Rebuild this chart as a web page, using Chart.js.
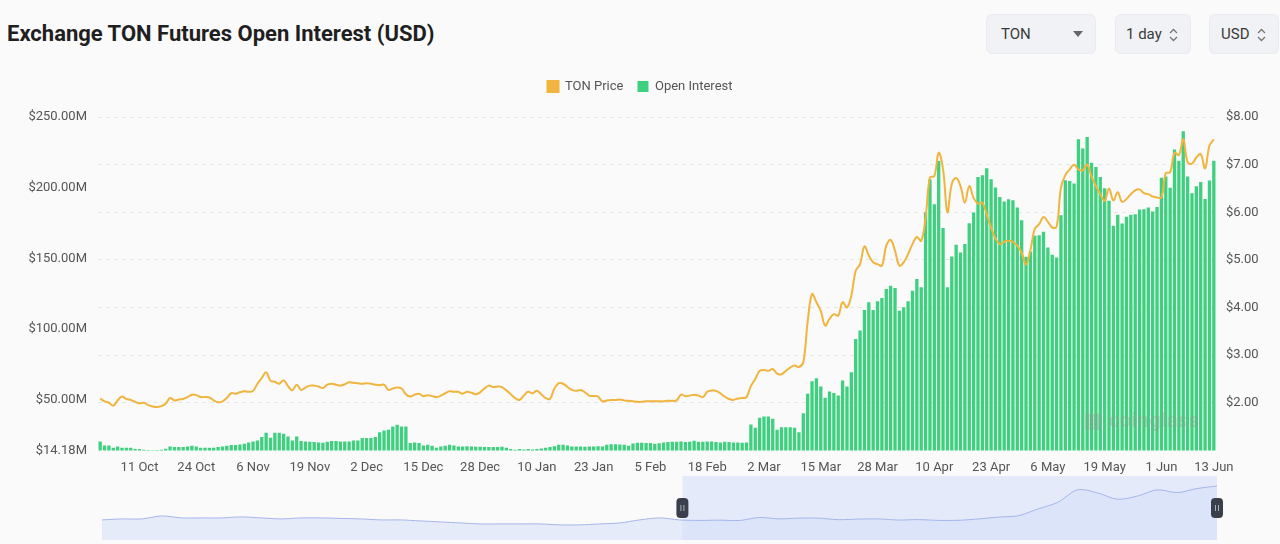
<!DOCTYPE html>
<html>
<head>
<meta charset="utf-8">
<title>Exchange TON Futures Open Interest (USD)</title>
<script src="https://cdn.jsdelivr.net/npm/chart.js@4.4.1/dist/chart.umd.min.js"></script>
<style>
    html, body {
        margin: 0;
        padding: 0;
        width: 1280px;
        height: 544px;
        overflow: hidden;
        background: #fafafa;
        font-family: Roboto, 'Noto Sans', sans-serif;
    }
    .title {
        position: absolute;
        left: 7px;
        top: 21px;
        font-size: 22px;
        font-weight: 700;
        color: #1f1f1f;
    }
    .select {
        position: absolute;
        top: 14px;
        height: 40px;
        box-sizing: border-box;
        background: #f0f2f5;
        border: 1px solid #e9ebef;
        border-radius: 6px;
        font-size: 15px;
        color: #3a3a3a;
        line-height: 38px;
        padding-left: 14px;
    }
    .select svg {
        position: absolute;
        top: 13px;
    }
    #mainWrap {
        position: absolute;
        left: 0;
        top: 60px;
        width: 1280px;
        height: 424px;
    }
    #navWrap {
        position: absolute;
        left: 0;
        top: 474px;
        width: 1280px;
        height: 70px;
    }
    .watermark {
        position: absolute;
        left: 1084px;
        top: 408px;
        font-size: 20px;
        font-weight: 700;
        color: rgba(150, 150, 150, 0.33);
        letter-spacing: 0.5px;
    }
</style>
</head>
<body>
<div class="title">Exchange TON Futures Open Interest (USD)</div>

<div class="select" style="left:986px; width:110px;">TON
    <svg style="left:86px; top:16px;" width="10" height="6"><path d="M0 0 L10 0 L5 6 Z" fill="#666"/></svg>
</div>
<div class="select" style="left:1115px; width:76px; padding-left:10px;">1 day
    <svg style="left:53px;" width="9" height="14"><path d="M1 5 L4.5 1.5 L8 5 M1 9 L4.5 12.5 L8 9" stroke="#777" stroke-width="1.3" fill="none"/></svg>
</div>
<div class="select" style="left:1209px; width:70px; padding-left:11px;">USD
    <svg style="left:47px;" width="9" height="14"><path d="M1 5 L4.5 1.5 L8 5 M1 9 L4.5 12.5 L8 9" stroke="#777" stroke-width="1.3" fill="none"/></svg>
</div>

<div id="mainWrap"><canvas id="oiChart"></canvas></div>
<div id="navWrap"><canvas id="navChart"></canvas></div>
<div class="watermark">&#9641; coinglass</div>

<script>
// daily values, 2 Oct 2023 .. 13 Jun 2024
const firstDay = [2023, 9, 2];
const monthNames = ['Jan', 'Feb', 'Mar', 'Apr', 'May', 'Jun', 'Jul', 'Aug', 'Sep', 'Oct', 'Nov', 'Dec'];

// open interest, millions USD
const openInterest = [
    20.5, 17.7, 17.7, 16.1, 17.0, 16.1, 16.1, 16.1, 15.1, 15.1,
    14.7, 14.4, 14.3, 14.4, 14.7, 15.4, 17.0, 16.5, 16.5, 16.5,
    17.0, 17.5, 17.0, 16.1, 16.1, 16.1, 16.1, 16.5, 17.0, 17.5,
    18.0, 18.0, 18.4, 18.9, 19.8, 20.5, 21.2, 23.6, 26.6, 23.1,
    26.6, 26.6, 25.9, 24.1, 21.2, 24.1, 20.8, 20.5, 20.3, 20.1,
    19.8, 19.6, 20.3, 20.8, 20.8, 20.5, 20.5, 20.5, 21.2, 21.2,
    22.9, 22.9, 22.9, 23.6, 27.1, 28.3, 28.8, 31.1, 32.3, 31.1,
    31.1, 19.4, 19.8, 19.4, 17.7, 18.2, 17.5, 16.1, 17.0, 17.5,
    18.2, 17.7, 17.0, 17.0, 17.2, 17.0, 16.8, 16.8, 16.5, 16.5,
    16.5, 16.5, 16.8, 16.1, 15.1, 14.7, 15.1, 14.9, 15.1, 14.9,
    15.1, 15.6, 16.1, 16.5, 17.2, 18.2, 18.2, 17.7, 17.0, 17.0,
    17.0, 16.8, 17.0, 17.0, 17.2, 17.0, 18.2, 18.6, 18.6, 18.4,
    18.2, 17.5, 19.1, 19.6, 19.6, 19.4, 19.4, 18.9, 19.2, 19.8,
    20.1, 20.3, 20.3, 20.5, 20.1, 20.3, 21.0, 20.3, 20.3, 20.5,
    20.5, 20.1, 19.8, 20.3, 20.1, 19.8, 19.8, 19.6, 19.8, 32.5,
    30.2, 37.2, 38.2, 38.2, 36.5, 28.8, 30.6, 30.6, 30.6, 30.2,
    27.1, 40.5, 54.2, 63.1, 65.2, 59.4, 51.4, 55.8, 54.7, 53.0,
    63.6, 59.4, 69.5, 93.0, 98.9, 113.5, 118.9, 113.5, 119.6, 122.0,
    128.3, 130.7, 129.0, 113.0, 115.4, 119.6, 127.1, 135.4, 129.5, 182.4,
    206.0, 188.3, 218.9, 171.4, 129.5, 151.4, 159.6, 154.2, 160.1, 174.9,
    182.4, 207.6, 208.8, 213.7, 206.0, 200.1, 193.5, 190.2, 191.8, 191.1,
    186.0, 177.0, 151.1, 154.9, 166.0, 166.4, 168.8, 157.7, 152.5, 150.7,
    180.5, 205.2, 204.8, 202.9, 234.2, 227.8, 235.8, 217.7, 214.7, 207.6,
    199.6, 190.7, 173.0, 180.8, 174.7, 179.4, 180.8, 181.3, 184.5, 184.8,
    186.0, 183.1, 186.4, 207.0, 208.0, 200.0, 227.0, 219.0, 240.0, 208.0,
    196.0, 201.0, 204.0, 192.0, 205.0, 219.0
];

// TON price, USD
const tonPrice = [
    2.09, 2.03, 2.00, 1.94, 2.05, 2.13, 2.08, 2.06, 2.02, 1.99,
    2.00, 1.95, 1.92, 1.91, 1.93, 1.98, 2.10, 2.05, 2.07, 2.08,
    2.12, 2.17, 2.16, 2.12, 2.12, 2.11, 2.05, 2.01, 2.03, 2.10,
    2.20, 2.19, 2.22, 2.24, 2.23, 2.25, 2.40, 2.52, 2.64, 2.46,
    2.44, 2.40, 2.47, 2.35, 2.26, 2.38, 2.27, 2.32, 2.36, 2.36,
    2.34, 2.31, 2.38, 2.40, 2.38, 2.36, 2.39, 2.43, 2.42, 2.41,
    2.40, 2.41, 2.40, 2.38, 2.37, 2.38, 2.27, 2.30, 2.32, 2.30,
    2.18, 2.13, 2.17, 2.19, 2.14, 2.16, 2.14, 2.12, 2.15, 2.20,
    2.24, 2.23, 2.23, 2.19, 2.23, 2.21, 2.18, 2.22, 2.30, 2.36,
    2.33, 2.34, 2.33, 2.26, 2.18, 2.10, 2.06, 2.15, 2.23, 2.20,
    2.25, 2.18, 2.10, 2.08, 2.30, 2.41, 2.40, 2.33, 2.27, 2.25,
    2.27, 2.22, 2.15, 2.14, 2.13, 2.03, 2.05, 2.06, 2.06, 2.07,
    2.05, 2.04, 2.03, 2.02, 2.02, 2.03, 2.03, 2.03, 2.03, 2.03,
    2.04, 2.04, 2.05, 2.17, 2.14, 2.15, 2.17, 2.15, 2.12, 2.23,
    2.26, 2.25, 2.20, 2.13, 2.08, 2.06, 2.09, 2.10, 2.12, 2.35,
    2.50, 2.67, 2.69, 2.67, 2.71, 2.61, 2.60, 2.67, 2.74, 2.78,
    2.75, 2.85, 3.70, 4.28, 4.11, 3.93, 3.62, 3.76, 3.86, 3.83,
    4.11, 4.00, 4.25, 4.77, 4.91, 5.28, 5.09, 4.95, 4.91, 4.88,
    5.30, 5.42, 5.19, 4.88, 4.95, 5.12, 5.33, 5.48, 5.40, 5.89,
    6.73, 6.76, 7.25, 6.90, 6.00, 6.60, 6.72, 6.55, 6.20, 6.55,
    6.30, 6.18, 6.20, 5.95, 5.68, 5.45, 5.33, 5.38, 5.40, 5.38,
    5.30, 5.15, 4.90, 5.20, 5.65, 5.75, 5.90, 5.80, 5.68, 5.70,
    6.52, 6.78, 6.90, 7.00, 6.90, 6.88, 7.00, 6.75, 6.55, 6.38,
    6.24, 6.50, 6.25, 6.42, 6.22, 6.28, 6.38, 6.46, 6.48, 6.40,
    6.38, 6.33, 6.31, 6.31, 6.82, 6.84, 7.25, 7.20, 7.53, 7.05,
    7.02, 7.15, 7.22, 6.92, 7.40, 7.53
];

const xTickLabels = ['11 Oct', '24 Oct', '6 Nov', '19 Nov', '2 Dec', '15 Dec', '28 Dec', '10 Jan', '23 Jan',
    '5 Feb', '18 Feb', '2 Mar', '15 Mar', '28 Mar', '10 Apr', '23 Apr', '6 May', '19 May', '1 Jun', '13 Jun'];
const oiTicks = [14.18, 50, 100, 150, 200, 250];
const priceTicks = [2, 3, 4, 5, 6, 7, 8];

// range slider below the chart (longer price history)
const navigatorValues = [
    2.10, 2.26, 2.26, 2.74, 2.42, 2.42, 2.42, 2.58, 2.42, 2.26,
    2.42, 2.42, 2.34, 2.26, 2.10, 2.10, 1.94, 1.78, 1.62, 1.46,
    1.46, 1.46, 1.46, 1.31, 1.31, 1.46, 1.62, 2.10, 2.42, 2.10,
    2.02, 2.07, 2.01, 2.48, 2.27, 2.38, 2.38, 2.14, 2.23, 2.26,
    2.08, 2.15, 2.03, 2.04, 2.25, 2.55, 2.75, 3.83, 4.90, 6.90,
    6.40, 5.40, 5.90, 6.90, 6.45, 7.10, 7.50
];
const navWindow = [29.15, 56];

const dates = [];
for (let i = 0; i < openInterest.length; i++) {
    const d = new Date(firstDay[0], firstDay[1], firstDay[2] + i);
    dates.push(d.getDate() + ' ' + monthNames[d.getMonth()]);
}

Chart.defaults.font.family = 'Roboto, "Noto Sans", sans-serif';
Chart.defaults.color = '#555';

// extra room under the legend
const legendMargin = {
    id: 'legendMargin',
    beforeInit(chart) {
        const fit = chart.legend.fit;
        chart.legend.fit = function() {
            fit.bind(chart.legend)();
            this.height += 14;
        };
    }
};

new Chart(document.getElementById('oiChart'), {
    data: {
        labels: dates,
        datasets: [{
            type: 'line',
            label: 'TON Price',
            data: tonPrice,
            yAxisID: 'yPrice',
            borderColor: '#f0b43f',
            backgroundColor: '#f0b43f',
            borderWidth: 2,
            pointRadius: 0,
            tension: 0.4
        }, {
            type: 'bar',
            label: 'Open Interest',
            data: openInterest,
            yAxisID: 'yOi',
            backgroundColor: '#3ed07f',
            borderWidth: 0,
            barPercentage: 0.76,
            categoryPercentage: 1.0
        }]
    },
    options: {
        responsive: true,
        maintainAspectRatio: false,
        animation: false,
        layout: { padding: { top: 6, bottom: 6 } },
        plugins: {
            legend: {
                position: 'top',
                labels: {
                    boxWidth: 11,
                    boxHeight: 11,
                    padding: 14,
                    color: '#555',
                    font: { size: 13 }
                }
            },
            tooltip: { enabled: false }
        },
        scales: {
            x: {
                grid: { display: false },
                border: { display: false },
                ticks: {
                    autoSkip: false,
                    maxRotation: 0,
                    minRotation: 0,
                    padding: 2,
                    color: '#555',
                    font: { size: 13 },
                    callback: function(value) {
                        const label = this.getLabelForValue(value);
                        return xTickLabels.includes(label) ? label : '';
                    }
                }
            },
            yOi: {
                position: 'left',
                min: 14.18,
                max: 250,
                grid: { display: false, drawTicks: false },
                border: { display: false },
                afterBuildTicks: function(scale) {
                    scale.ticks = oiTicks.map(v => ({ value: v }));
                },
                afterFit: function(scale) {
                    scale.width = 98;
                },
                ticks: {
                    padding: 11,
                    color: '#555',
                    font: { size: 13 },
                    callback: v => '$' + v.toFixed(2) + 'M'
                }
            },
            yPrice: {
                position: 'right',
                min: 1,
                max: 8,
                grid: {
                    color: '#e5e5e5',
                    drawTicks: false
                },
                border: { display: false, dash: [4, 4] },
                afterBuildTicks: function(scale) {
                    scale.ticks = priceTicks.map(v => ({ value: v }));
                },
                afterFit: function(scale) {
                    scale.width = 64;
                },
                ticks: {
                    padding: 10,
                    color: '#555',
                    font: { size: 13 },
                    callback: v => '$' + v.toFixed(2)
                }
            }
        }
    },
    plugins: [legendMargin]
});

// shaded window + drag handles on the slider
const navWindowPlugin = {
    id: 'navWindow',
    beforeDatasetsDraw(chart) {
        const ctx = chart.ctx;
        const x = chart.scales.x;
        const area = chart.chartArea;
        const left = x.getPixelForValue(navWindow[0]);
        const right = x.getPixelForValue(navWindow[1]);
        ctx.save();
        ctx.fillStyle = 'rgba(190, 204, 248, 0.35)';
        ctx.fillRect(left, area.top, right - left, area.bottom - area.top);
        ctx.restore();
    },
    afterDatasetsDraw(chart) {
        const ctx = chart.ctx;
        const x = chart.scales.x;
        const area = chart.chartArea;
        const mid = (area.top + area.bottom) / 2;
        navWindow.forEach(function(v) {
            const px = x.getPixelForValue(v);
            ctx.save();
            ctx.fillStyle = '#3a3f4c';
            ctx.beginPath();
            ctx.roundRect(px - 6, mid - 10, 12, 20, 4);
            ctx.fill();
            ctx.strokeStyle = '#aab0bd';
            ctx.lineWidth = 1;
            ctx.beginPath();
            ctx.moveTo(px - 1.5, mid - 3);
            ctx.lineTo(px - 1.5, mid + 3);
            ctx.moveTo(px + 1.5, mid - 3);
            ctx.lineTo(px + 1.5, mid + 3);
            ctx.stroke();
            ctx.restore();
        });
    }
};

new Chart(document.getElementById('navChart'), {
    type: 'line',
    data: {
        labels: navigatorValues.map((v, i) => i),
        datasets: [{
            data: navigatorValues,
            borderColor: '#a4b5ea',
            borderWidth: 1,
            backgroundColor: 'rgba(214, 222, 250, 0.55)',
            fill: 'start',
            pointRadius: 0,
            tension: 0.3
        }]
    },
    options: {
        responsive: true,
        maintainAspectRatio: false,
        animation: false,
        layout: { padding: { left: 102, right: 63, top: 2, bottom: 4 } },
        plugins: {
            legend: { display: false },
            tooltip: { enabled: false }
        },
        scales: {
            x: { display: false },
            y: { display: false, min: -1.1, max: 9.1 }
        }
    },
    plugins: [navWindowPlugin]
});
</script>
</body>
</html>
